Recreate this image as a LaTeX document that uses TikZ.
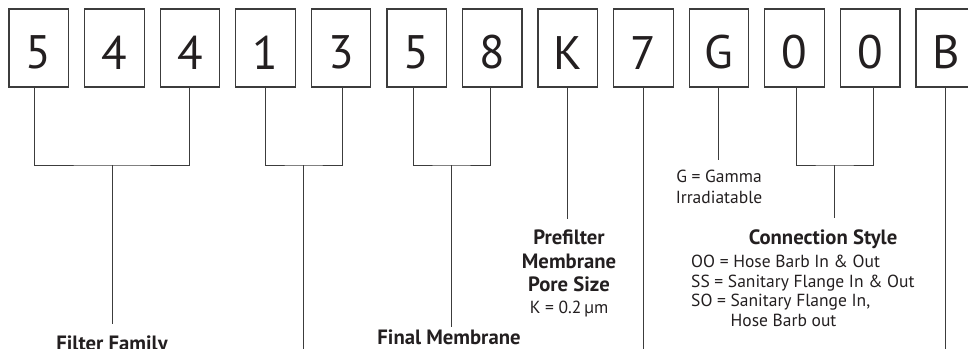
\documentclass[tikz,border=0pt]{standalone}
\usepackage{fontspec}
\setmainfont{PT Sans}
\usetikzlibrary{positioning, calc}
\definecolor{inkgray}{HTML}{3C3C3C}
\definecolor{textdark}{HTML}{231F20}

\begin{document}
\begin{tikzpicture}[x=1pt, y=-1pt, font=\fontsize{17.5}{19.5}\selectfont, text=textdark,
    digitbox/.style={rectangle, draw=inkgray, line width=1.2pt, minimum width=59.5pt,
      minimum height=78pt, inner sep=0pt, text height=42pt, font=\fontsize{47}{47}\selectfont},
    lead/.style={draw=inkgray, line width=0.9pt},
    headline/.style={font=\bfseries\fontsize{20.7}{23.5}\selectfont, inner sep=0pt, align=center},
    codenote/.style={inner sep=0pt, align=left}]

    \useasboundingbox (0,0) rectangle (968,348);
    \clip (0,0) rectangle (968,348);

    % Code digits
    \node (d1)  [digitbox] at (38.8,48)  {5};
    \node (d2)  [digitbox] at (114.4,48) {4};
    \node (d3)  [digitbox] at (190.0,48) {4};
    \node (d4)  [digitbox] at (265.5,48) {1};
    \node (d5)  [digitbox] at (341.1,48) {3};
    \node (d6)  [digitbox] at (416.7,48) {5};
    \node (d7)  [digitbox] at (492.3,48) {8};
    \node (d8)  [digitbox] at (567.8,48) {K};
    \node (d9)  [digitbox] at (643.4,48) {7};
    \node (d10) [digitbox] at (719.0,48) {G};
    \node (d11) [digitbox] at (794.6,48) {0};
    \node (d12) [digitbox] at (870.2,48) {0};
    \node (d13) [digitbox] at (945.8,48) {B};

    % Brackets joining digit groups
    \coordinate (famjoin) at (112,165);
    \coordinate (sizejoin) at (303.5,165);
    \coordinate (finjoin) at (451,165);
    \coordinate (conjoin) at (834.5,165);
    \draw[lead] ([xshift=-4pt]d1.south) |- (famjoin) -| ([xshift=-1pt]d3.south);
    \draw[lead] (d4.south) |- (sizejoin) -| ([xshift=1pt]d5.south);
    \draw[lead] ([xshift=-3pt]d6.south) |- (finjoin) -| ([xshift=-2pt]d7.south);
    \draw[lead] ([xshift=1.5pt]d11.south) |- (conjoin) -| ([xshift=3pt]d12.south);

    % Leader lines down to the labels
    \draw[lead] (famjoin) -- ++(0,159);
    \draw[lead] (sizejoin) -- ++(0,190);
    \draw[lead] (finjoin) -- ++(0,162);
    \draw[lead] (d8.south) -- ++(0,131);
    \draw[lead] (d9.south) -- ++(0,265);
    \draw[lead] ([xshift=-1pt]d10.south) -- ++(0,72);
    \draw[lead] (conjoin) -- ++(0,53);
    \draw[lead] (d13.south) -- ++(0,265);

    % Labels
    \node (fam) [headline, anchor=base] at (112,350) {Filter Family};
    \node (fin) [headline, anchor=base] at (449,344) {Final Membrane};
    \node (pore) [headline, anchor=north] at (569,230)
      {Prefilter\\Membrane\\Pore Size\\[-2pt]{\mdseries\fontsize{17.5}{19.5}\selectfont K = 0.2\,µm}};
    \node (gam) [codenote, align=center, anchor=north, font=\fontsize{17.5}{21}\selectfont] at (719,170)
      {G = Gamma\\Irradiatable};
    \node (con) [headline, anchor=base] at (823,244) {Connection Style};
    \node (conlist) [codenote, anchor=north west] at (691,255)
      {OO = Hose Barb In \& Out\\SS = Sanitary Flange In \& Out\\SO = Sanitary Flange In,\\\phantom{SO = }Hose Barb out};
\end{tikzpicture}
\end{document}
